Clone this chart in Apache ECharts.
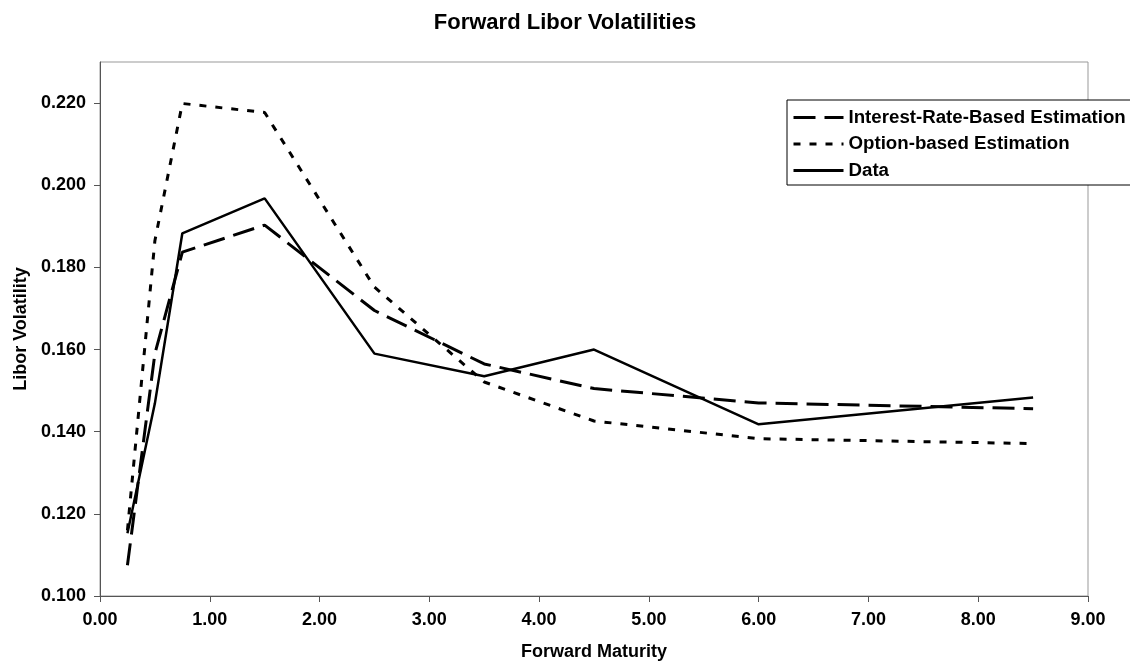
<!DOCTYPE html>
<html>
<head>
<meta charset="utf-8">
<script src="https://cdn.jsdelivr.net/npm/echarts@6/dist/echarts.min.js"></script>
<style>
  html, body { margin: 0; padding: 0; background: #fff; }
  #chart { width: 1130px; height: 666px; }
</style>
</head>
<body>
<div id="chart"></div>
<script>
// Forward maturities (years)
const maturities = [0.25, 0.5, 0.75, 1.5, 2.5, 3.5, 4.5, 6, 8.5];

// Volatility estimates per maturity
const rateBased   = [0.1075, 0.159, 0.1837, 0.1903, 0.1695, 0.1565, 0.1505, 0.1470, 0.1456];
const optionBased = [0.116, 0.1865, 0.2199, 0.2177, 0.1752, 0.1521, 0.1426, 0.1383, 0.1371];
const observed    = [0.1153, 0.1469, 0.1883, 0.1968, 0.1590, 0.1535, 0.1600, 0.1418, 0.1483];

// Axis tick values
const yTicks = [0.10, 0.12, 0.14, 0.16, 0.18, 0.20, 0.22];
const xTicks = [0, 1, 2, 3, 4, 5, 6, 7, 8, 9];

const seriesNames = ['Interest-Rate-Based Estimation', 'Option-based Estimation', 'Data'];

const FONT = '"Liberation Sans", Arial, Helvetica, sans-serif';

function pairs(xs, ys) {
  return xs.map((x, i) => [x, ys[i]]);
}

const chart = echarts.init(document.getElementById('chart'), null, { renderer: 'canvas' });

chart.setOption({
  animation: false,
  backgroundColor: '#fff',
  textStyle: { fontFamily: FONT, color: '#000' },
  title: {
    text: 'Forward Libor Volatilities',
    left: 'center',
    top: 7,
    textStyle: { fontFamily: FONT, fontWeight: 'bold', fontSize: 22, color: '#000' }
  },
  grid: {
    left: 100, right: 42, top: 62, bottom: 70,
    show: true,
    borderColor: '#999',
    borderWidth: 1,
    backgroundColor: '#fff'
  },
  legend: {
    orient: 'vertical',
    left: 787,
    top: 100,
    padding: [8, 5, 5, 5],
    itemGap: 7.5,
    itemWidth: 50,
    itemHeight: 18,
    backgroundColor: '#fff',
    borderColor: '#000',
    borderWidth: 1,
    borderRadius: 0,
    itemStyle: { opacity: 0 },
    lineStyle: { width: 3 },
    data: seriesNames,
    textStyle: { fontFamily: FONT, fontWeight: 'bold', fontSize: 18.7, color: '#000' }
  },
  xAxis: {
    type: 'value',
    min: 0, max: 9, interval: 1,
    name: 'Forward Maturity',
    nameLocation: 'middle',
    nameGap: 47,
    nameTextStyle: { fontFamily: FONT, fontWeight: 'bold', fontSize: 18, color: '#000' },
    axisLine: { show: true, lineStyle: { color: '#555', width: 1 } },
    axisTick: { show: true, length: 6, lineStyle: { color: '#555' }, customValues: xTicks },
    axisLabel: {
      margin: 15,
      fontFamily: FONT, fontWeight: 'bold', fontSize: 18, color: '#000',
      customValues: xTicks,
      formatter: v => v.toFixed(2)
    },
    splitLine: { show: false }
  },
  yAxis: {
    type: 'value',
    min: 0.1, max: 0.23, interval: 0.02,
    name: 'Libor Volatility',
    nameLocation: 'middle',
    nameGap: 70,
    nameTextStyle: { fontFamily: FONT, fontWeight: 'bold', fontSize: 18, color: '#000' },
    axisLine: { show: true, lineStyle: { color: '#555', width: 1 } },
    axisTick: { show: true, length: 6, lineStyle: { color: '#555' }, customValues: yTicks },
    axisLabel: {
      margin: 14,
      fontFamily: FONT, fontWeight: 'bold', fontSize: 18, color: '#000',
      customValues: yTicks,
      formatter: v => v.toFixed(3)
    },
    splitLine: { show: false }
  },
  series: [
    {
      name: seriesNames[0],
      type: 'line',
      data: pairs(maturities, rateBased),
      symbol: 'none',
      lineStyle: { color: '#000', width: 3, type: [22, 9] },
      itemStyle: { color: '#000' }
    },
    {
      name: seriesNames[1],
      type: 'line',
      data: pairs(maturities, optionBased),
      symbol: 'none',
      lineStyle: { color: '#000', width: 3, type: [7, 9] },
      itemStyle: { color: '#000' }
    },
    {
      name: seriesNames[2],
      type: 'line',
      data: pairs(maturities, observed),
      symbol: 'none',
      lineStyle: { color: '#000', width: 2.5, type: 'solid' },
      itemStyle: { color: '#000' }
    }
  ]
});
</script>
</body>
</html>
